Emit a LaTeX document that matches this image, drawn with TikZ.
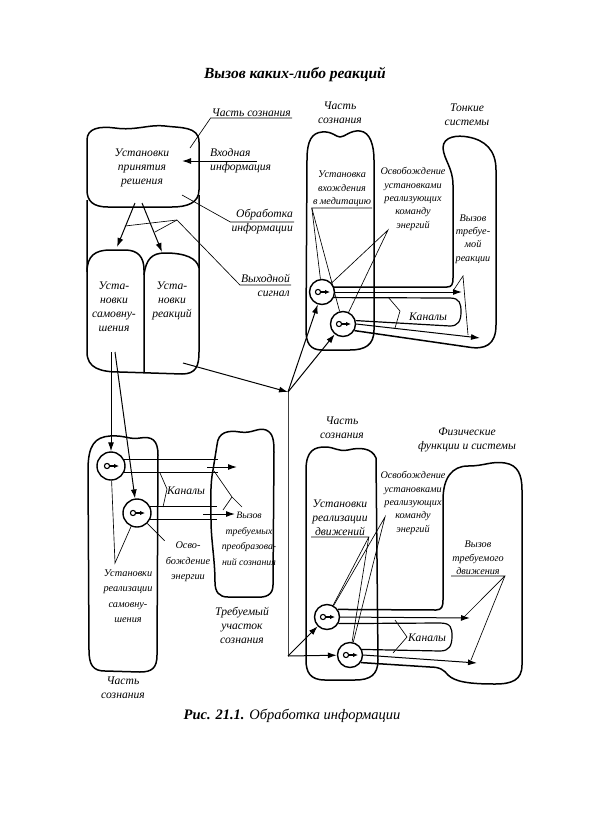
\documentclass[tikz,border=0pt]{standalone}
\usepackage{fontspec}
\setmainfont{Liberation Serif}
\usepackage{tikz}
\usetikzlibrary{arrows.meta,calc}

\newcommand{\bigtxt}{\fontsize{11.6}{14}\selectfont\itshape}
\newcommand{\smtxt}{\fontsize{10.2}{13.4}\selectfont\itshape}
\newcommand{\smwide}{\fontsize{10.3}{15.5}\selectfont\itshape}

\begin{document}
\begin{tikzpicture}[x=1pt,y=-1pt,
  big/.style={font=\bigtxt, align=center, inner sep=1pt},
  small/.style={font=\smtxt, align=center, inner sep=1pt},
  smallwide/.style={font=\smwide, align=center, inner sep=1pt},
  blob/.style={line width=1.5pt, line join=round},
  chan/.style={line width=1.2pt},
  lead/.style={line width=0.65pt},
  arr/.style={line width=1pt, -{Latex[length=9pt,width=6pt]}},
  ring/.style={circle, draw, line width=1.4pt, minimum size=25pt, inner sep=0pt}]
\useasboundingbox (0,0) rectangle (591,820);

\node[font=\fontsize{15.5}{17}\selectfont\bfseries\itshape] (title) at (295,75) {Вызов каких-либо реакций};

% --- decision block (top left)
\draw[blob] (87,140) .. controls (87,128) and (100,126) .. (115,128)
  .. controls (135,131) and (150,124) .. (165,126)
  .. controls (180,128) and (199,126) .. (199,142) -- (199,190)
  .. controls (199,203) and (187,207) .. (172,207) -- (108,207)
  .. controls (93,207) and (87,201) .. (87,190) -- cycle;
\draw[blob] (87,200) -- (87,352) .. controls (87,368) and (100,372) .. (120,372)
  -- (182,374) .. controls (196,374) and (199,366) .. (199,352) -- (199,195);
\draw[blob] (87,272) .. controls (87,256) and (95,250) .. (110,250) -- (125,250)
  .. controls (138,250) and (144,257) .. (144,270) -- (144,372);
\draw[blob] (144,275) .. controls (146,259) and (152,253) .. (165,253)
  .. controls (185,253) and (197,258) .. (199,268);

\node[big] (decide) at (142,168) {Установки\\принятия\\решения};
\node[big] (selfsug) at (114,307) {Уста-\\новки\\самовну-\\шения};
\node[big] (react) at (172,301) {Уста-\\новки\\реакций};

\coordinate (dec-a) at (135,203);
\coordinate (dec-b) at (142,203);
\coordinate (selfsug-in) at (117,247);
\coordinate (react-in) at (162,252);
\draw[arr] (dec-a) -- (selfsug-in);
\draw[arr] (dec-b) -- (react-in);

\node[big, anchor=east] (part1) at (292,113) {Часть сознания};
\coordinate (part1-end) at (190,148);
\draw[lead] (part1.south east) -- (part1.south west) -- (part1-end);

\node[big, align=left, anchor=west] (input) at (209,161) {Входная\\информация};
\coordinate (in-a) at (257,161);
\coordinate (in-b) at (182,161);
\draw[arr] (in-a) -- (in-b);

\node[big, align=right, anchor=east] (proc) at (294,222) {Обработка\\информации};
\coordinate (proc-end) at (182,195);
\draw[lead] (proc.east) -- (proc.west) -- (proc-end);

\node[big, align=right, anchor=east] (outsig) at (291,285) {Выходной\\сигнал};
\coordinate (split) at (177,220);
\coordinate (split-l) at (125,226);
\coordinate (split-r) at (155,232);
\draw[lead] (outsig.east) -- (outsig.west) -- (split) -- (split-l);
\draw[lead] (split) -- (split-r);

\coordinate (out) at (183,363);
\coordinate (hub1) at (288,392);
\coordinate (hub2) at (288,656);
\coordinate (down1) at (111,352);
\coordinate (down2) at (115,352);

% --- subtle systems (top right)
\draw[blob] (307,160) .. controls (307,140) and (312,133) .. (322,132)
  .. controls (332,131) and (336,137) .. (340,137)
  .. controls (345,137) and (350,130) .. (360,131)
  .. controls (370,132) and (374,145) .. (374,160) -- (374,330)
  .. controls (374,345) and (365,350) .. (350,350) -- (322,350)
  .. controls (310,350) and (306,343) .. (306,330) -- cycle;
\node[ring] (u1) at (322,292) {};
\node[ring] (l1) at (343,324) {};
\draw[blob] (u1.22) -- (447,287) .. controls (452,287) and (453,284) .. (453,278)
  -- (453,185) .. controls (453,168) and (444,160) .. (443,148)
  .. controls (443,136) and (458,135) .. (468,137)
  .. controls (485,140) and (496,150) .. (496,170) -- (496,325)
  .. controls (496,345) and (485,350) .. (468,347) -- (l1.-30);
\draw[chan] (u1.-25) -- (450,298) .. controls (460,298) and (461,304) .. (461,312)
  .. controls (461,321) and (458,326) .. (450,326) -- (l1.15);
\coordinate (t1) at (462,292);
\coordinate (t2) at (480,338);
\draw[arr] (u1.east) -- (t1);
\draw[arr] (l1.east) -- (t2);

\node[big] (part2) at (340,113) {Часть\\сознания};
\node[big] (subtle) at (467,115) {Тонкие\\системы};
\node[small] (medit) at (342,189) {Установка\\вхождения\\в медитацию};
\draw[lead] (medit.south east) -- (medit.south west) -- (u1);
\draw[lead] (medit.south west) -- (l1);
\node[small] (free1) at (413,199) {Освобождение\\установками\\реализующих\\команду\\энергий};
\coordinate (free1-a) at (388,230);
\draw[lead] (u1) -- (free1-a) -- (l1);
\node[small] (call1) at (473,239) {Вызов\\требуе-\\мой\\реакции};
\coordinate (call1-a) at (463,276);
\draw[lead] ($(t1)+(-9,-1)$) -- (call1-a) -- ($(t2)+(-12,-3)$);
\node[big] (chan1) at (428,317) {Каналы};
\draw[lead] (388,297) -- (400,311) -- (395,328);

\draw[arr] (out) -- (hub1);
\draw[line width=0.8pt, black!75] (hub1) -- (hub2);
\draw[arr] (hub1) -- (u1);
\draw[arr] (hub1) -- (l1);

% --- physical functions (bottom right)
\draw[blob] (306,470) .. controls (306,450) and (315,447) .. (325,447)
  .. controls (335,447) and (338,452) .. (348,450)
  .. controls (360,447) and (372,448) .. (376,458) -- (378,660)
  .. controls (378,675) and (370,680) .. (355,680) -- (325,680)
  .. controls (310,680) and (306,672) .. (306,660) -- cycle;
\node[ring] (u2) at (327,617) {};
\node[ring] (l2) at (350,655) {};
\draw[blob] (u2.35) -- (436,610) .. controls (442,610) and (443,606) .. (443,600)
  -- (443,500) .. controls (443,478) and (452,466) .. (468,466)
  .. controls (485,466) and (490,461) .. (505,463)
  .. controls (518,465) and (522,475) .. (522,490) -- (522,665)
  .. controls (522,680) and (512,684) .. (495,684)
  .. controls (470,684) and (455,682) .. (448,675)
  .. controls (444,670) and (440,667) .. (430,667) -- (l2.-35);
\draw[chan] (u2.-30) -- (440,623) .. controls (451,623) and (452,628) .. (452,636)
  .. controls (452,646) and (449,651) .. (440,651) -- (l2.25);
\coordinate (t3) at (470,618);
\coordinate (t4) at (477,663);
\draw[arr] (u2.east) -- (t3);
\draw[arr] (l2.east) -- (t4);

\node[big] (part3) at (342,428) {Часть\\сознания};
\node[big] (phys) at (467,440) {Физические\\функции и системы};
\node[small] (free2) at (413,503) {Освобождение\\установками\\реализующих\\команду\\энергий};
\coordinate (free2-a) at (385,517);
\draw[lead] (u2) -- (free2-a) -- (l2);
\node[big] (move) at (340,518) {Установки\\реализации\\движений};
\draw[lead] (move.south west) -- (move.south east) -- (u2);
\draw[lead] (move.south east) -- (l2);
\node[small] (call3) at (478,558) {Вызов\\требуемого\\движения};
\draw[lead] (call3.south west) -- (call3.south east) -- ($(t3)+(-6,-1)$);
\draw[lead] (call3.south east) -- ($(t4)+(-6,-3)$);
\node[big] (chan3) at (427,638) {Каналы};
\draw[lead] (395,620) -- (407,637) -- (393,653);

\draw[arr] (hub2) -- (u2);
\draw[arr] (hub2) -- (l2);

% --- required region (bottom left)
\draw[blob] (88,470) .. controls (88,445) and (95,437) .. (110,436)
  .. controls (125,435) and (130,440) .. (140,438)
  .. controls (152,436) and (158,440) .. (158,455) -- (157,655)
  .. controls (157,668) and (152,672) .. (140,672) -- (105,671)
  .. controls (93,671) and (89,665) .. (89,650) -- cycle;
\draw[blob] (217,445) .. controls (218,432) and (228,430) .. (240,432)
  .. controls (252,434) and (258,427) .. (266,430)
  .. controls (273,433) and (274,440) .. (274,452) -- (273,585)
  .. controls (273,595) and (266,598) .. (255,597) -- (228,597)
  .. controls (219,597) and (215,592) .. (215,582)
  .. controls (215,560) and (211,540) .. (211,520)
  .. controls (211,500) and (210,485) .. (213,470) -- cycle;
\node[ring, minimum size=28pt] (u3) at (111,466) {};
\node[ring, minimum size=28pt] (l3) at (137,513) {};
\draw[chan] (u3.25) -- +(94,0);
\draw[chan] (u3.-25) -- +(94,0);
\draw[chan] (l3.25) -- +(67,0);
\draw[chan] (l3.-25) -- +(67,0);
\coordinate (t5a) at (207,467);
\coordinate (t5) at (237,467);
\coordinate (t6a) at (203,514);
\coordinate (t6) at (235,514);
\draw[arr] (t5a) -- (t5);
\draw[arr] (t6a) -- (t6);

\node[big] (chan2) at (186,491) {Каналы};
\draw[lead] (160,473) -- (167,489) -- (163,507);
\node[smallwide, font=\fontsize{9.8}{15.5}\selectfont\itshape] (call2) at (249,539) {Вызов\\требуемых\\преобразова-\\ний сознания};
\coordinate (call2-a) at (242,507);
\coordinate (call2-m) at (232,497);
\coordinate (call2-u) at (214,471);
\coordinate (call2-l) at (223,510);
\draw[lead] (call2-a) -- (call2-m) -- (call2-u);
\draw[lead] (call2-m) -- (call2-l);
\node[smallwide] (freeen) at (188,562) {Осво-\\бождение\\энергии};
\draw[lead] (freeen.north west) -- (l3);
\node[smallwide] (selfreal) at (128,596) {Установки\\реализации\\самовну-\\шения};
\coordinate (selfreal-a) at (115,563);
\draw[lead] (u3) -- (selfreal-a) -- (l3);
\node[big] (needed) at (242,625) {Требуемый\\участок\\сознания};
\node[big] (part4) at (123,688) {Часть\\сознания};

\draw[arr] (down1) -- (u3);
\draw[arr] (down2) -- (l3);

% inner symbols of the rings
\foreach \r in {u1,l1,u2,l2,u3,l3} {
  \draw[line width=1.1pt] ($(\r)+(-4,0)$) circle (2.6pt);
  \draw[line width=1.1pt, -{Latex[length=5pt,width=4.5pt]}] ($(\r)+(-1.4,0)$) -- ($(\r)+(8,0)$);
}

\node[font=\fontsize{14.5}{16}\selectfont\itshape] (caption) at (292,716) {\textbf{Рис. 21.1.} Обработка информации};
\end{tikzpicture}
\end{document}
